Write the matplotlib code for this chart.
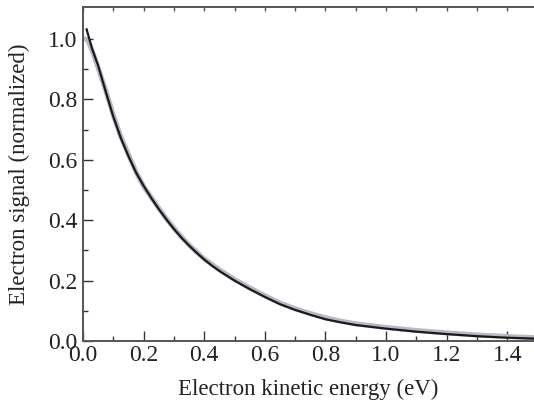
"""Electron signal vs kinetic energy: measured data (grey) with fit (black)."""

import matplotlib
matplotlib.use("Agg")
import matplotlib.pyplot as plt
import numpy as np

plt.rcParams["font.family"] = ["Liberation Serif", "DejaVu Serif"]

# fit curve (black)
FIT_E = [0.012, 0.03, 0.05, 0.075, 0.10, 0.125, 0.15, 0.175, 0.20, 0.225, 0.25,
         0.275, 0.30, 0.325, 0.35, 0.375, 0.40, 0.425, 0.45, 0.50, 0.55, 0.60, 0.65,
         0.70, 0.75, 0.80, 0.85, 0.90, 0.95, 1.00, 1.10, 1.20, 1.30, 1.40, 1.488]
FIT_S = [1.032, 0.968, 0.912, 0.826, 0.743, 0.672, 0.612, 0.558, 0.514, 0.474, 0.437,
         0.403, 0.371, 0.342, 0.316, 0.292, 0.270, 0.250, 0.232, 0.200, 0.172, 0.146,
         0.122, 0.103, 0.087, 0.072, 0.062, 0.053, 0.047, 0.041, 0.031, 0.023, 0.016,
         0.011, 0.008]

# measured signal (grey band)
DATA_E = [0.0, 0.015, 0.03, 0.05, 0.075, 0.10, 0.125, 0.15, 0.175, 0.20, 0.225, 0.25,
          0.275, 0.30, 0.325, 0.35, 0.375, 0.40, 0.45, 0.50, 0.55, 0.60, 0.65, 0.70,
          0.75, 0.80, 0.85, 0.90, 0.95, 1.00, 1.10, 1.20, 1.30, 1.40, 1.488]
DATA_S = [1.002, 0.998, 0.962, 0.905, 0.830, 0.748, 0.676, 0.618, 0.560, 0.512, 0.476,
          0.440, 0.405, 0.374, 0.345, 0.318, 0.295, 0.272, 0.236, 0.204, 0.176, 0.150,
          0.126, 0.107, 0.091, 0.077, 0.066, 0.057, 0.051, 0.045, 0.035, 0.027, 0.020,
          0.015, 0.011]

fig = plt.figure(figsize=(5.34, 4.03), dpi=100)
ax = fig.add_axes([0.1554, 0.1538, 0.8446, 0.8288])

ax.plot(DATA_E, DATA_S, color="#b6bac6", lw=3.6, solid_capstyle="round",
        solid_joinstyle="round", zorder=2)
ax.plot(FIT_E, FIT_S, color="#1a1a1a", lw=1.6, solid_joinstyle="round", zorder=3)

ax.set_xlim(0, 1.488)
ax.set_ylim(0, 1.106)
ax.set_xticks(np.arange(0, 1.41, 0.2))
ax.set_xticks(np.arange(0.1, 1.5, 0.2), minor=True)
ax.set_yticks(np.arange(0, 1.01, 0.2))
ax.set_yticks(np.arange(0.1, 1.1, 0.2), minor=True)
ax.xaxis.set_major_formatter(matplotlib.ticker.FormatStrFormatter("%.1f"))
ax.yaxis.set_major_formatter(matplotlib.ticker.FormatStrFormatter("%.1f"))

ax.tick_params(which="both", direction="in", colors="#333333", labelcolor="#222222",
               labelsize=17, width=1.0)
ax.tick_params(which="major", length=7)
ax.tick_params(which="minor", length=3.5)
ax.tick_params(axis="x", pad=3)
ax.tick_params(axis="y", pad=4)

for side in ("left", "bottom", "top"):
    ax.spines[side].set_color("#555555")
    ax.spines[side].set_linewidth(1.4)
ax.spines["right"].set_visible(False)

top = ax.secondary_xaxis("top")
top.set_xticks(np.arange(0, 1.45, 0.1))
top.tick_params(direction="in", length=3, width=1.0, colors="#555555", labeltop=False)
top.spines["top"].set_visible(False)

ax.set_xlabel("Electron kinetic energy (eV)", fontsize=16.5, color="#222222", labelpad=9)
ax.set_ylabel("Electron signal (normalized)", fontsize=16.5, color="#222222", labelpad=13)

fig.savefig("out.png", dpi=100)
